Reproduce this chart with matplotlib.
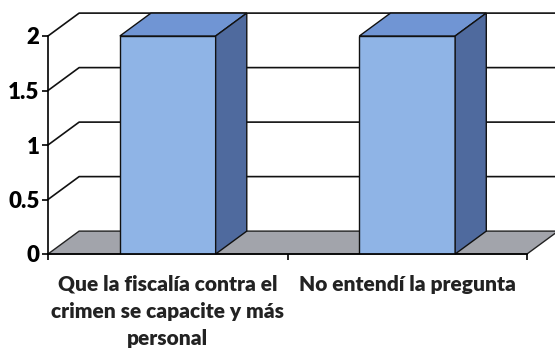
import numpy as np
import matplotlib
matplotlib.use('Agg')
import matplotlib.pyplot as plt
from matplotlib.patches import Polygon

# dades
categories = ['Que la fiscalía contra el\ncrimen se capacite y más\npersonal',
              'No entendí la pregunta']
valors = [2, 2]
yticks = [0, 0.5, 1, 1.5, 2]
ytick_labels = ['0', '0.5', '1', '1.5', '2']

plt.rcParams['font.family'] = ['Lato', 'DejaVu Sans']
plt.rcParams['font.weight'] = 'bold'

fig = plt.figure(figsize=(5.55, 3.52), dpi=100)
ax = fig.add_axes([48/555, 98/352, 479/555, 218/352])
ax.set_xlim(0, len(categories))
ax.set_ylim(0, 2)

# profunditat (efecte 3D)
dx = 0.13
dy = 0.21
ample = 0.4
xmax = len(categories)

# terra gris
terra = Polygon([(0, 0), (xmax, 0), (xmax + dx, dy), (dx, dy)], closed=True,
                facecolor='#a2a4ab', edgecolor='#222222', lw=1.0, zorder=1, clip_on=False)
ax.add_patch(terra)

# linies de la graella (paret del fons)
for v in yticks[1:]:
    ax.plot([0, dx, xmax + dx], [v, v + dy, v + dy], color='#111111', lw=1.2,
            zorder=2, clip_on=False)

# barres 3D
for i, v in enumerate(valors):
    x0 = i + 0.5 - ample / 2
    x1 = i + 0.5 + ample / 2
    ax.bar(i + 0.5, v, width=ample, color='#8fb4e6', edgecolor='#111111', lw=1.0, zorder=4)
    top = Polygon([(x0, v), (x1, v), (x1 + dx, v + dy), (x0 + dx, v + dy)], closed=True,
                  facecolor='#7095d4', edgecolor='#111111', lw=1.0, zorder=4, clip_on=False)
    side = Polygon([(x1, 0), (x1 + dx, dy), (x1 + dx, v + dy), (x1, v)], closed=True,
                   facecolor='#4f6a9e', edgecolor='#111111', lw=1.0, zorder=4, clip_on=False)
    ax.add_patch(top)
    ax.add_patch(side)

for s in ['top', 'right']:
    ax.spines[s].set_visible(False)
ax.spines['left'].set_linewidth(1.2)
ax.spines['bottom'].set_linewidth(1.2)
ax.spines['left'].set_zorder(5)
ax.spines['bottom'].set_zorder(5)

ax.set_yticks(yticks)
ax.set_yticklabels(ytick_labels, fontsize=16, fontweight='heavy')
ax.tick_params(axis='y', length=4, width=1.2, pad=2)

ax.set_xticks(np.arange(xmax + 1))
ax.set_xticklabels([])
ax.tick_params(axis='x', which='major', length=4, width=1.2)
ax.set_xticks(np.arange(xmax) + 0.5, minor=True)
ax.set_xticklabels(categories, minor=True, fontsize=15, fontweight='heavy',
                   linespacing=1.52, color='#222222')
ax.tick_params(axis='x', which='minor', length=0, pad=15)

fig.savefig('out.png', dpi=100)
plt.close()
